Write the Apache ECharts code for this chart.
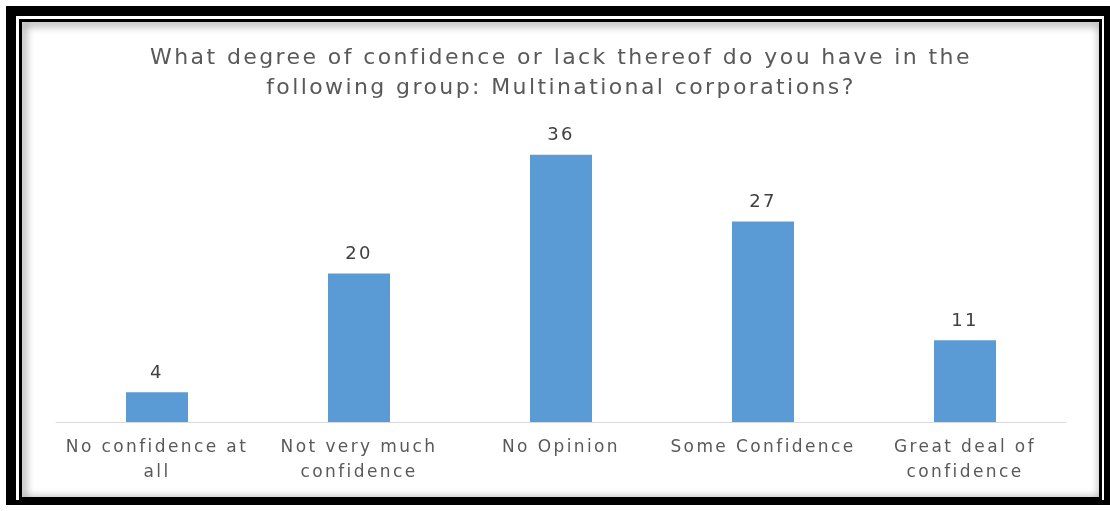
<!DOCTYPE html>
<html>
<head>
<meta charset="utf-8">
<script src="https://cdn.jsdelivr.net/npm/echarts@6/dist/echarts.min.js"></script>
<style>
  html, body { margin: 0; padding: 0; background: #fff; }
  #chart { width: 1110px; height: 511px; }
</style>
</head>
<body>
<div id="chart"></div>
<script>
// Survey responses: confidence in multinational corporations
const categories = [
  'No confidence at\nall',
  'Not very much\nconfidence',
  'No Opinion',
  'Some Confidence',
  'Great deal of\nconfidence'
];
const responses = [4, 20, 36, 27, 11];
const titleText = 'What degree of confidence or lack thereof do you have in the\nfollowing group: Multinational corporations?';

const chart = echarts.init(document.getElementById('chart'));
const FONT = '"DejaVu Sans", sans-serif';

const option = {
  backgroundColor: '#ffffff',
  animation: false,
  title: {
    text: titleText,
    // centred over the plot area (grid spans x 56..1066)
    left: 556,
    top: 38,
    textAlign: 'center',
    textStyle: {
      fontFamily: FONT,
      fontSize: 22,
      fontWeight: 'normal',
      color: '#595959',
      lineHeight: 30
    }
  },
  grid: { left: 56, right: 44, top: 125, bottom: 89 },
  xAxis: {
    type: 'category',
    data: categories,
    axisLine: { lineStyle: { color: '#d9d9d9', width: 1 } },
    axisTick: { show: false },
    axisLabel: {
      interval: 0,
      margin: 13,
      fontFamily: FONT,
      fontSize: 17,
      color: '#595959',
      lineHeight: 25
    }
  },
  yAxis: {
    type: 'value',
    min: 0,
    max: 40,
    show: false,
    splitLine: { show: false }
  },
  series: [{
    type: 'bar',
    data: responses,
    barWidth: 62,
    itemStyle: { color: '#5b9bd5' },
    label: {
      show: true,
      position: 'top',
      distance: 10,
      fontFamily: FONT,
      fontSize: 18,
      color: '#404040'
    }
  }],
  graphic: [
    // inner frame line with a soft shadow falling onto the chart area
    {
      type: 'rect', z: 100, silent: true,
      shape: { x: 20.5, y: 20.5, width: 1080, height: 478 },
      style: {
        fill: null, stroke: '#000', lineWidth: 3,
        shadowBlur: 10, shadowColor: 'rgba(0,0,0,0.75)', shadowOffsetX: 2, shadowOffsetY: 2
      }
    },
    // white gap between the two frame lines
    {
      type: 'rect', z: 101, silent: true,
      shape: { x: 17.5, y: 17.5, width: 1086, height: 484 },
      style: { fill: null, stroke: '#fff', lineWidth: 3 }
    },
    // thick outer frame
    {
      type: 'rect', z: 102, silent: true,
      shape: { x: 11, y: 11, width: 1098, height: 494 },
      style: { fill: null, stroke: '#000', lineWidth: 10 }
    },
    // white margin outside the frame
    {
      type: 'rect', z: 103, silent: true,
      shape: { x: 3, y: 3, width: 1114, height: 505 },
      style: { fill: null, stroke: '#fff', lineWidth: 6 }
    }
  ]
};

chart.setOption(option);
// widen the tracking of all drawn text, then redraw
document.querySelectorAll('#chart canvas').forEach(function (c) {
  const ctx = c.getContext('2d');
  if ('letterSpacing' in ctx) ctx.letterSpacing = '2.4px';
});
chart.setOption(option, true);
</script>
</body>
</html>
